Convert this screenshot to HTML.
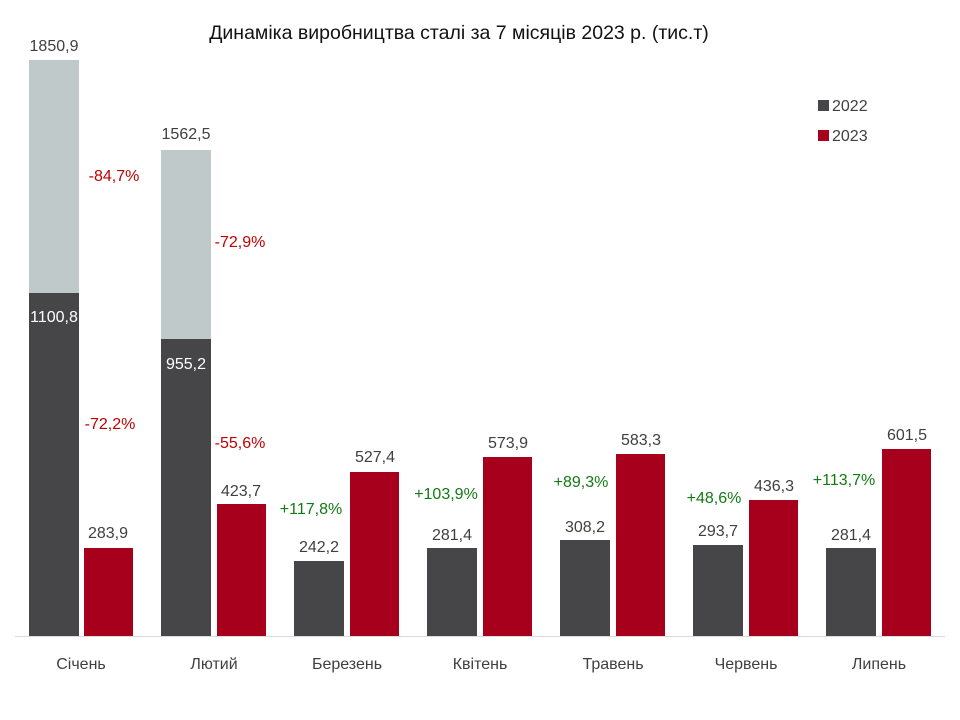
<!DOCTYPE html>
<html><head><meta charset="utf-8"><style>
html,body{margin:0;padding:0;background:#fff;}
svg{display:block;font-family:"Liberation Sans",Arial,sans-serif;}
.v{font-size:16px;fill:#404040;text-anchor:middle;}
.w{font-size:16px;fill:#fff;text-anchor:middle;}
.r{font-size:16px;fill:#c00000;text-anchor:middle;}
.g{font-size:16px;fill:#137a13;text-anchor:middle;}
.c{font-size:16px;fill:#404040;text-anchor:middle;}
</style></head><body>
<svg width="960" height="720" viewBox="0 0 960 720">
<rect width="960" height="720" fill="#fff"/>
<text x="459" y="39" font-size="19.5" fill="#111" text-anchor="middle">Динаміка виробництва сталі за 7 місяців 2023 р. (тис.т)</text>
<rect x="29" y="60" width="50" height="233" fill="#c0c9ca"/>
<rect x="161" y="150" width="50" height="189" fill="#c0c9ca"/>
<g fill="#464648">
<rect x="29" y="293" width="50" height="343"/>
<rect x="161" y="339" width="50" height="297"/>
<rect x="294" y="561" width="50" height="75"/>
<rect x="427" y="548" width="50" height="88"/>
<rect x="560" y="540" width="50" height="96"/>
<rect x="693" y="545" width="50" height="91"/>
<rect x="826" y="548" width="50" height="88"/>
</g>
<g fill="#a6001c">
<rect x="84" y="548" width="49" height="88"/>
<rect x="217" y="504" width="49" height="132"/>
<rect x="350" y="472" width="49" height="164"/>
<rect x="483" y="457" width="49" height="179"/>
<rect x="616" y="454" width="49" height="182"/>
<rect x="749" y="500" width="49" height="136"/>
<rect x="882" y="449" width="49" height="187"/>
</g>
<line x1="15" y1="636.5" x2="945" y2="636.5" stroke="#d9d9d9" stroke-width="1"/>
<g>
<text class="v" x="54" y="51">1850,9</text>
<text class="r" x="114" y="181">-84,7%</text>
<text class="v" x="186" y="139">1562,5</text>
<text class="r" x="240" y="247">-72,9%</text>
<text class="w" x="54" y="322">1100,8</text>
<text class="r" x="110" y="429">-72,2%</text>
<text class="w" x="186" y="369">955,2</text>
<text class="r" x="240" y="448">-55,6%</text>
<text class="v" x="108" y="538">283,9</text>
<text class="v" x="241" y="496">423,7</text>
<text class="v" x="319" y="552">242,2</text>
<text class="v" x="375" y="462">527,4</text>
<text class="g" x="311" y="514">+117,8%</text>
<text class="v" x="452" y="540">281,4</text>
<text class="v" x="508" y="448">573,9</text>
<text class="g" x="446" y="499">+103,9%</text>
<text class="v" x="585" y="532">308,2</text>
<text class="v" x="641" y="445">583,3</text>
<text class="g" x="581" y="487">+89,3%</text>
<text class="v" x="718" y="536">293,7</text>
<text class="v" x="774" y="491">436,3</text>
<text class="g" x="714" y="503">+48,6%</text>
<text class="v" x="851" y="540">281,4</text>
<text class="v" x="907" y="440">601,5</text>
<text class="g" x="844" y="485">+113,7%</text>
</g>
<g>
<text class="c" x="81" y="669">Січень</text>
<text class="c" x="214" y="669">Лютий</text>
<text class="c" x="347" y="669">Березень</text>
<text class="c" x="480" y="669">Квітень</text>
<text class="c" x="613" y="669">Травень</text>
<text class="c" x="746" y="669">Червень</text>
<text class="c" x="879" y="669">Липень</text>
</g>
<rect x="818" y="100" width="11" height="11" fill="#464648"/>
<text x="832" y="111" font-size="16" fill="#404040">2022</text>
<rect x="818" y="130" width="11" height="11" fill="#a6001c"/>
<text x="832" y="141" font-size="16" fill="#404040">2023</text>
</svg>
</body></html>
